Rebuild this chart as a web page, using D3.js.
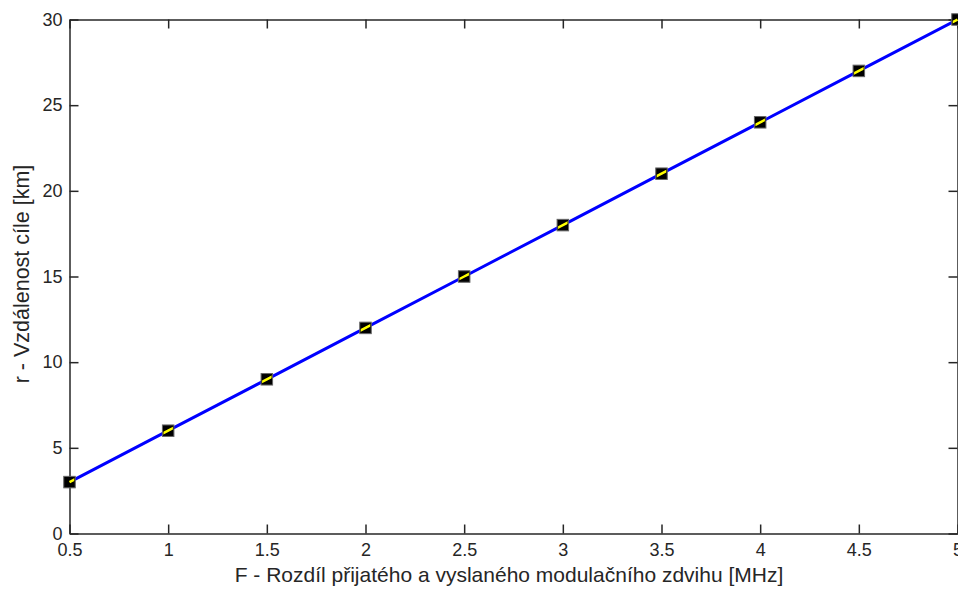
<!DOCTYPE html>
<html>
<head>
<meta charset="utf-8">
<script src="https://cdn.jsdelivr.net/npm/d3@7"></script>
<style>
  html, body { margin: 0; padding: 0; background: #fff; }
  svg { display: block; }
  text { font-family: "Liberation Sans", Arial, sans-serif; fill: #262626; }
</style>
</head>
<body>
<svg id="chart" width="958" height="589"></svg>
<script>
// Frequency difference [MHz] and resulting target range [km]
const freqDiff = [0.5, 1, 1.5, 2, 2.5, 3, 3.5, 4, 4.5, 5];
const range = [3, 6, 9, 12, 15, 18, 21, 24, 27, 30];
const xTicks = [0.5, 1, 1.5, 2, 2.5, 3, 3.5, 4, 4.5, 5];
const xTickLabels = ["0.5", "1", "1.5", "2", "2.5", "3", "3.5", "4", "4.5", "5"];
const yTicks = [0, 5, 10, 15, 20, 25, 30];
const xTitle = "F - Rozdíl přijatého a vyslaného modulačního zdvihu [MHz]";
const yTitle = "r - Vzdálenost cíle [km]";

const svg = d3.select("#chart");
const m = { left: 69.5, right: 957.5, top: 19.5, bottom: 533.5 };

const x = d3.scaleLinear().domain([0.5, 5]).range([m.left, m.right]);
const y = d3.scaleLinear().domain([0, 30]).range([m.bottom, m.top]);

const fs = 18;
const axisColor = "#262626";

// Axes with inward ticks, mirrored on top and right to close the box
const xAxis = svg.append("g").attr("transform", `translate(0,${m.bottom})`)
  .call(d3.axisBottom(x).tickValues(xTicks).tickSizeInner(-9).tickSizeOuter(0)
    .tickPadding(10).tickFormat((d, i) => xTickLabels[i]));
const yAxis = svg.append("g").attr("transform", `translate(${m.left},0)`)
  .call(d3.axisLeft(y).tickValues(yTicks).tickSizeInner(-9).tickSizeOuter(0)
    .tickPadding(7).tickFormat(d3.format("d")));
const xTop = svg.append("g").attr("transform", `translate(0,${m.top})`)
  .call(d3.axisTop(x).tickValues(xTicks).tickSizeInner(-9).tickSizeOuter(0).tickFormat(""));
const yRight = svg.append("g").attr("transform", `translate(${m.right},0)`)
  .call(d3.axisRight(y).tickValues(yTicks).tickSizeInner(-9).tickSizeOuter(0).tickFormat(""));

[xAxis, yAxis, xTop, yRight].forEach(g => {
  g.selectAll("path.domain").attr("stroke", axisColor).attr("stroke-width", 1.5);
  g.selectAll(".tick line").attr("stroke", axisColor).attr("stroke-width", 1.5);
  g.selectAll(".tick text").attr("font-size", fs).attr("fill", axisColor)
    .attr("font-family", "Liberation Sans, Arial, sans-serif");
});
xAxis.selectAll(".tick text").attr("dy", "0.71em");

// Axis titles
svg.append("text").attr("x", 509).attr("y", 582)
  .attr("text-anchor", "middle").attr("font-size", 21).text(xTitle);
svg.append("text")
  .attr("transform", `translate(28.5,274) rotate(-90)`)
  .attr("text-anchor", "middle").attr("font-size", 21.5).text(yTitle);

// Data line
const line = d3.line().x(d => x(d[0])).y(d => y(d[1]));
const pts = freqDiff.map((f, i) => [f, range[i]]);

svg.append("path").datum(pts).attr("d", line)
  .attr("fill", "none").attr("stroke", "#0000ff").attr("stroke-width", 3);

// Square markers
const ms = 11.5;
svg.append("g").selectAll("rect").data(pts).join("rect")
  .attr("x", d => x(d[0]) - ms / 2).attr("y", d => y(d[1]) - ms / 2)
  .attr("width", ms).attr("height", ms)
  .attr("fill", "#000").attr("stroke", "#666").attr("stroke-width", 1);

// Yellow trace visible through the markers
const clip = svg.append("clipPath").attr("id", "mk");
clip.selectAll("rect").data(pts).join("rect")
  .attr("x", d => x(d[0]) - ms / 2 + 1).attr("y", d => y(d[1]) - ms / 2 + 1)
  .attr("width", ms - 2).attr("height", ms - 2);
svg.append("path").datum(pts).attr("d", line).attr("clip-path", "url(#mk)")
  .attr("fill", "none").attr("stroke", "#ffff00").attr("stroke-width", 2.5);
</script>
</body>
</html>
